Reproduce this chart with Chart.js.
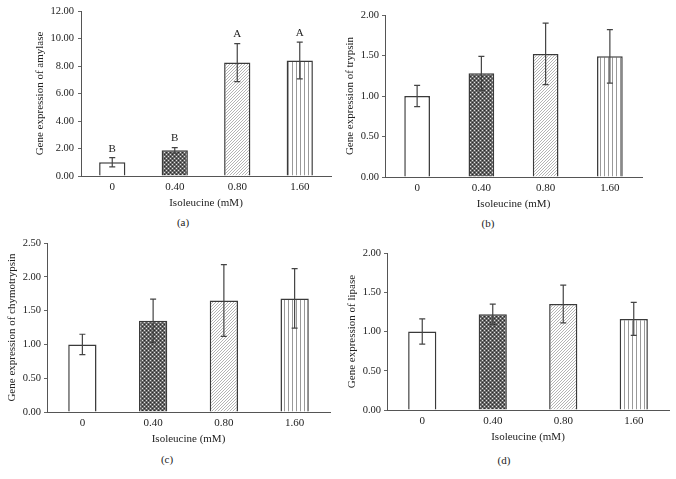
<!DOCTYPE html>
<html>
<head>
<meta charset="utf-8">
<script src="https://cdn.jsdelivr.net/npm/chart.js@4.4.1/dist/chart.umd.min.js"></script>
<style>
    body { margin: 0; background: #fff; }
    #page { position: relative; width: 676px; height: 479px; overflow: hidden; }
    .panel { position: absolute; }
    .cap { position: absolute; font: 11px "Liberation Serif", serif; color: #222; transform: translate(-50%, -50%); -webkit-font-smoothing: antialiased; }
</style>
</head>
<body>
<div id="page">
    <canvas class="panel" id="chartA" width="338" height="214" style="left:0;top:0"></canvas>
    <canvas class="panel" id="chartB" width="336" height="215" style="left:340px;top:0"></canvas>
    <canvas class="panel" id="chartC" width="338" height="220" style="left:0;top:230px"></canvas>
    <canvas class="panel" id="chartD" width="336" height="218" style="left:340px;top:230px"></canvas>
    <div class="cap" style="left:183px;top:222px">(a)</div>
    <div class="cap" style="left:488px;top:223px">(b)</div>
    <div class="cap" style="left:167px;top:459px">(c)</div>
    <div class="cap" style="left:504px;top:460px">(d)</div>
</div>
<script>
// isoleucine doses
var doses = ["0", "0.40", "0.80", "1.60"];

var amylase = [1.00, 1.87, 8.25, 8.40];
var amylaseErr = [0.33, 0.20, 1.38, 1.33];
var amylaseSig = ["B", "B", "A", "A"];

var trypsin = [1.00, 1.28, 1.52, 1.49];
var trypsinErr = [0.13, 0.21, 0.38, 0.33];

var chymotrypsin = [1.00, 1.35, 1.65, 1.68];
var chymotrypsinErr = [0.15, 0.32, 0.53, 0.44];

var lipase = [1.00, 1.22, 1.35, 1.16];
var lipaseErr = [0.16, 0.13, 0.24, 0.21];

Chart.defaults.font.family = "'Liberation Serif', serif";
Chart.defaults.color = "#222";

function makePattern(kind) {
    var c = document.createElement("canvas");
    var g = c.getContext("2d");
    if (kind == "white") {
        return "#fff";
    } else if (kind == "check") {
        c.width = 4; c.height = 4;
        g.fillStyle = "#666";
        g.fillRect(0, 0, 4, 4);
        g.fillStyle = "#e0e0e0";
        g.fillRect(0, 0, 1, 1);
        g.fillRect(2, 2, 1, 1);
        g.fillStyle = "#2a2a2a";
        g.fillRect(2, 0, 1, 1);
        g.fillRect(0, 2, 1, 1);
    } else if (kind == "diag") {
        c.width = 3; c.height = 3;
        g.fillStyle = "#fff";
        g.fillRect(0, 0, 3, 3);
        g.fillStyle = "#b4b4b4";
        g.fillRect(2, 0, 1, 1);
        g.fillRect(1, 1, 1, 1);
        g.fillRect(0, 2, 1, 1);
    } else if (kind == "vert") {
        c.width = 4; c.height = 4;
        g.fillStyle = "#fff";
        g.fillRect(0, 0, 4, 4);
        g.fillStyle = "#999";
        g.fillRect(0, 0, 1, 4);
    }
    return g.createPattern(c, "repeat");
}

var fills = [makePattern("white"), makePattern("check"), makePattern("diag"), makePattern("vert")];

// error bars and significance letters
var errorBarPlugin = {
    id: "errorBars",
    afterDatasetsDraw: function(chart) {
        var ctx = chart.ctx;
        var y = chart.scales.y;
        var ds = chart.data.datasets[0];
        var meta = chart.getDatasetMeta(0);
        ctx.save();
        ctx.strokeStyle = "#444";
        ctx.lineWidth = 1.2;
        meta.data.forEach(function(bar, i) {
            var v = ds.data[i];
            var e = ds.errors[i];
            var top = y.getPixelForValue(v + e);
            var bot = y.getPixelForValue(v - e);
            ctx.beginPath();
            ctx.moveTo(bar.x, top); ctx.lineTo(bar.x, bot);
            ctx.moveTo(bar.x - 3, top); ctx.lineTo(bar.x + 3, top);
            ctx.moveTo(bar.x - 3, bot); ctx.lineTo(bar.x + 3, bot);
            ctx.stroke();
            if (ds.letters) {
                ctx.fillStyle = "#222";
                ctx.font = "11px 'Liberation Serif', serif";
                ctx.textAlign = "center";
                ctx.textBaseline = "middle";
                ctx.fillText(ds.letters[i], bar.x, top - 9);
            }
        });
        ctx.restore();
    }
};

function drawChart(id, values, errors, letters, yTitle, yMax, yStep, box) {
    new Chart(document.getElementById(id), {
        type: "bar",
        data: {
            labels: doses,
            datasets: [{
                data: values,
                errors: errors,
                letters: letters,
                backgroundColor: fills,
                borderColor: "#3a3a3a",
                borderWidth: 1.5,
                categoryPercentage: 1,
                barPercentage: box.bar
            }]
        },
        options: {
            responsive: false,
            devicePixelRatio: 1,
            animation: false,
            layout: {padding: {left: 0, top: box.top, right: box.right, bottom: 0}},
            plugins: {legend: {display: false}, tooltip: {enabled: false}},
            scales: {
                x: {
                    grid: {display: false, drawTicks: false},
                    border: {color: "#555", width: 1},
                    ticks: {padding: 5, font: {size: 11}},
                    title: {display: true, text: "Isoleucine (mM)", font: {size: 11}, padding: {top: 0, bottom: 4}},
                    afterFit: function(s) { s.height = 38; }
                },
                y: {
                    min: 0,
                    max: yMax,
                    grid: {drawOnChartArea: false, drawTicks: true, tickLength: 3, color: "#666"},
                    border: {color: "#555", width: 1},
                    ticks: {
                        stepSize: yStep,
                        padding: box.tickPad,
                        font: {size: 10.5},
                        callback: function(v) { return v.toFixed(2); }
                    },
                    title: {display: true, text: yTitle, font: {size: 11}, padding: {top: box.titlePad, bottom: 0}},
                    afterFit: function(s) { s.width = box.left; }
                }
            }
        },
        plugins: [errorBarPlugin]
    });
}

drawChart("chartA", amylase, amylaseErr, amylaseSig, "Gene expression of amylase", 12, 2,
    {left: 81, right: 7, top: 11, titlePad: 34, tickPad: 4, bar: 0.42});
drawChart("chartB", trypsin, trypsinErr, null, "Gene expression of trypsin", 2, 0.5,
    {left: 45, right: 34, top: 15, titlePad: 3.5, tickPad: 3, bar: 0.4});
drawChart("chartC", chymotrypsin, chymotrypsinErr, null, "Gene expression of chymotrypsin", 2.5, 0.5,
    {left: 47, right: 8, top: 13, titlePad: 5.5, tickPad: 3, bar: 0.4});
drawChart("chartD", lipase, lipaseErr, null, "Gene expression of lipase", 2, 0.5,
    {left: 47, right: 7, top: 23, titlePad: 5.5, tickPad: 3, bar: 0.4});
</script>
</body>
</html>
